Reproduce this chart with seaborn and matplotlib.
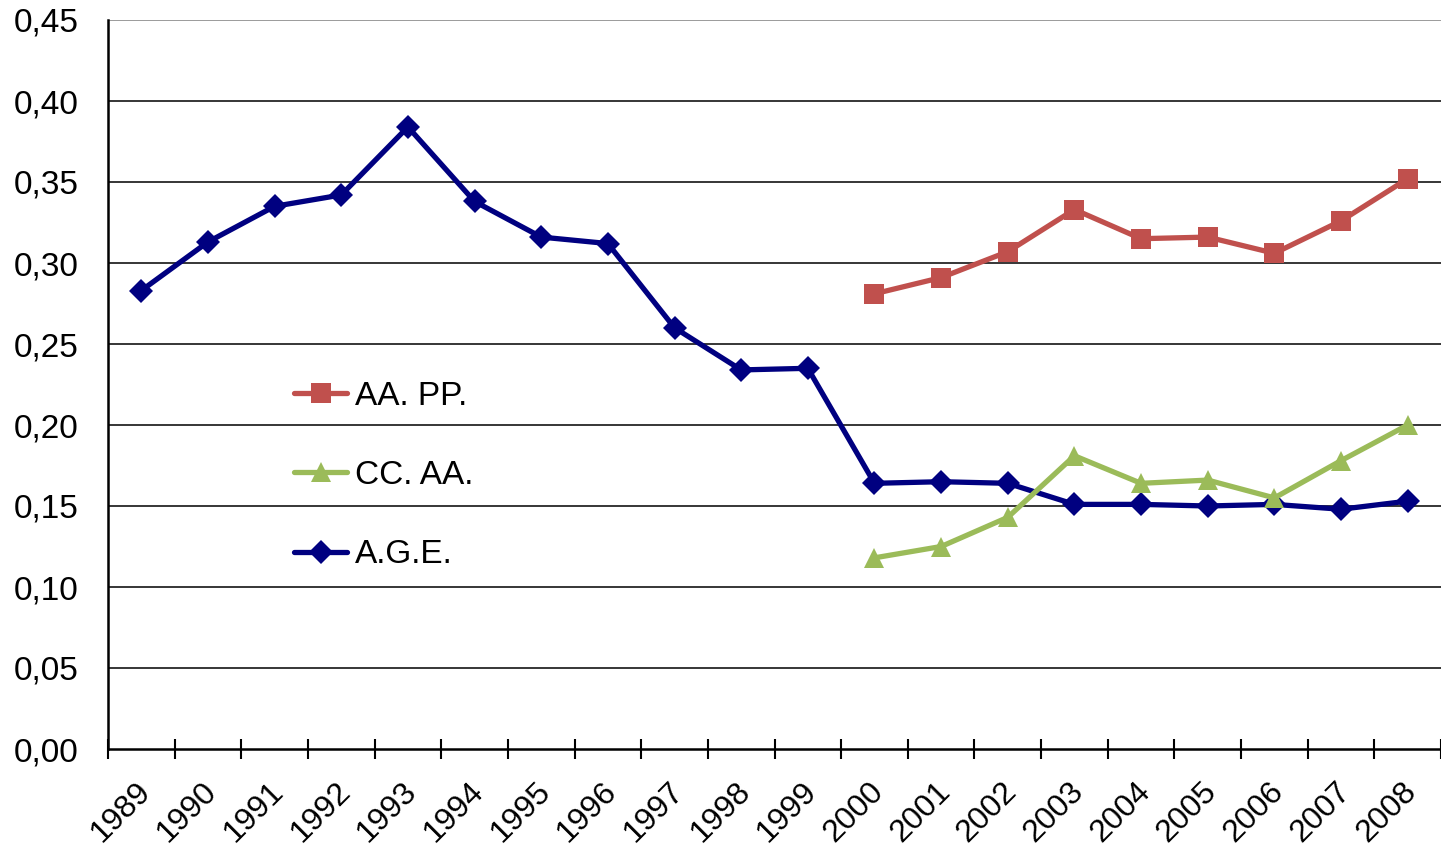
import numpy as np
import pandas as pd
import seaborn as sns
import matplotlib.pyplot as plt
from matplotlib.ticker import FixedLocator, FuncFormatter
from matplotlib.transforms import ScaledTranslation

years = [str(y) for y in range(1989, 2009)]

age = [0.283, 0.313, 0.335, 0.342, 0.384, 0.338, 0.316, 0.312, 0.260, 0.234,
       0.235, 0.164, 0.165, 0.164, 0.151, 0.151, 0.150, 0.151, 0.148, 0.153]
aapp = [np.nan] * 11 + [0.281, 0.291, 0.307, 0.333, 0.315, 0.316, 0.306, 0.326, 0.352]
ccaa = [np.nan] * 11 + [0.118, 0.125, 0.143, 0.181, 0.164, 0.166, 0.155, 0.178, 0.200]

series = ["AA. PP.", "CC. AA.", "A.G.E."]
colors = {"AA. PP.": "#C0504D", "CC. AA.": "#9BBB59", "A.G.E.": "#000080"}
markers = {"AA. PP.": "s", "CC. AA.": "^", "A.G.E.": "D"}
msizes = {"AA. PP.": 14, "CC. AA.": 15, "A.G.E.": 12}

df = pd.DataFrame({"pos": np.arange(len(years)), "year": years,
                   "AA. PP.": aapp, "CC. AA.": ccaa, "A.G.E.": age})
long = df.melt(id_vars=["pos", "year"], value_vars=series,
               var_name="serie", value_name="valor").dropna()

sns.set_style("white")
plt.rcParams["font.family"] = ["Liberation Sans", "DejaVu Sans"]
plt.rcParams["text.color"] = "black"
plt.rcParams["xtick.color"] = "black"
plt.rcParams["ytick.color"] = "black"

fig = plt.figure(figsize=(14.41, 8.5), dpi=100)
ax = fig.add_axes([108 / 1441, 1 - 749 / 850, 1 - 108 / 1441, (749 - 20) / 850])

# grid lines first so the series sit on top
for v in np.arange(0.05, 0.451, 0.05):
    ax.axhline(v, color="#808080" if v > 0.44 else "black", lw=1.1, zorder=1)

# draw A.G.E. first, then others on top, as in the reference
for s in ["A.G.E.", "CC. AA.", "AA. PP."]:
    sub = long[long["serie"] == s]
    sns.lineplot(data=sub, x="pos", y="valor", ax=ax, color=colors[s],
                 marker=markers[s], markersize=msizes[s], markeredgewidth=0,
                 linewidth=3.8, label=s, zorder=3, legend=False)

ax.set_xlim(-0.5, len(years) - 0.5)
ax.set_ylim(0, 0.45)
ax.set_yticks(np.arange(0, 0.451, 0.05))
ax.yaxis.set_major_formatter(FuncFormatter(lambda v, p: f"{v:.2f}".replace(".", ",")))
ax.tick_params(axis="y", length=0, labelsize=24, pad=21)

ax.set_xticks(np.arange(len(years)))
ax.set_xticklabels(years, rotation=45, ha="right", va="top", rotation_mode="anchor")
ax.xaxis.set_minor_locator(FixedLocator(np.arange(-0.5, len(years), 1.0)))
ax.tick_params(axis="x", which="major", length=0, labelsize=23, pad=20)
ax.tick_params(axis="x", which="minor", bottom=True, length=14, width=1.5,
               direction="inout", color="black")
shift = ScaledTranslation(-6 / 100, 0, fig.dpi_scale_trans)
for lab in ax.get_xticklabels():
    lab.set_transform(lab.get_transform() + shift)

ax.set_xlabel("")
ax.set_ylabel("")
for side in ["top", "right"]:
    ax.spines[side].set_visible(False)
for side in ["left", "bottom"]:
    ax.spines[side].set_color("black")
    ax.spines[side].set_linewidth(1.8)
    ax.spines[side].set_zorder(4)

handles, labels = ax.get_legend_handles_labels()
order = [labels.index(s) for s in series]
ax.legend([handles[i] for i in order], [labels[i] for i in order],
          loc="upper left", bbox_to_anchor=(0.127, 0.528), frameon=False,
          fontsize=24, labelspacing=1.45, handlelength=1.6, handletextpad=0.22,
          borderpad=0)

fig.savefig("out.png", dpi=100)
